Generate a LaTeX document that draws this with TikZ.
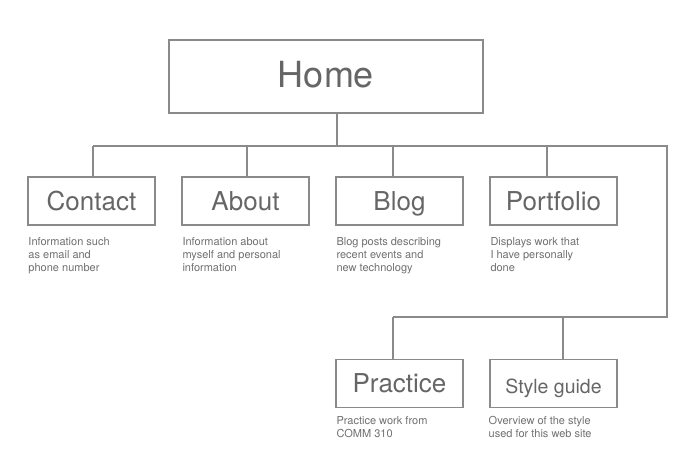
\documentclass[tikz,border=0pt]{standalone}
\usepackage{fontspec}
\setmainfont{TeX Gyre Heros}
\begin{document}
\begin{tikzpicture}[x=1bp,y=-1bp,
  wire/.style={draw=linegray, line width=1.2bp},
  page/.style={draw=linegray, line width=1.2bp, fill=white, inner sep=0pt,
    text=textgray, minimum height=48bp, minimum width=127bp,
    text height=18.7bp, text depth=0pt},
  bigpage/.style={page, minimum width=314bp, minimum height=73bp,
    font=\fontsize{36bp}{40bp}\selectfont, text height=22bp},
  midpage/.style={page, font=\fontsize{26bp}{28bp}\selectfont},
  smallpage/.style={page, font=\fontsize{19.5bp}{22bp}\selectfont,
    text height=19bp},
  note/.style={anchor=north west, inner sep=0pt, align=left, text=notegray,
    font=\fontsize{11bp}{13bp}\selectfont}
]
\definecolor{linegray}{HTML}{8A8A8A}
\definecolor{textgray}{HTML}{666666}
\definecolor{notegray}{HTML}{707070}
\path[fill=white] (0,0) rectangle (700,470);
\useasboundingbox (0,0) rectangle (700,470);

% pages
\node[bigpage] (home) at (326,76.5) {Home};
\node[midpage] (contact) at (91.5,201) {Contact};
\node[midpage] (about) at (245.5,201) {About};
\node[midpage] (blog) at (399.5,201) {Blog};
\node[midpage] (portfolio) at (553.5,201) {Portfolio};
\node[midpage] (practice) at (399.5,383.5) {Practice};
\node[smallpage] (style) at (553.5,383.5) {Style guide};

% descriptions
\node[note] (dcontact) at (28.3,237) {Information such\\as email and\\phone number};
\node[note] (dabout) at (182.3,237) {Information about\\myself and personal\\information};
\node[note] (dblog) at (336.3,237) {Blog posts describing\\recent events and\\new technology};
\node[note] (dportfolio) at (490.3,237) {Displays work that\\I have personally\\done};
\node[note] (dpractice) at (336.3,416.5) {Practice work from\\COMM 310};
\node[note] (dstyle) at (488.5,416.5) {Overview of the style\\used for this web site};

% connector junctions
\coordinate (hub) at (337,146);
\coordinate (bl) at (93,146);
\coordinate (ba) at (247,146);
\coordinate (bb) at (393,146);
\coordinate (bp) at (547,146);
\coordinate (br) at (667,146);
\coordinate (lr) at (667,317);
\coordinate (lp) at (393,317);
\coordinate (ls) at (563,317);

% connectors
\draw[wire] (home.south -| hub) -- (hub);
\draw[wire] (bl) -- (br) -- (lr) -- (lp);
\draw[wire] (bl) -- (bl |- contact.north);
\draw[wire] (ba) -- (ba |- about.north);
\draw[wire] (bb) -- (bb |- blog.north);
\draw[wire] (bp) -- (bp |- portfolio.north);
\draw[wire] (lp) -- (lp |- practice.north);
\draw[wire] (ls) -- (ls |- style.north);
\end{tikzpicture}
\end{document}
